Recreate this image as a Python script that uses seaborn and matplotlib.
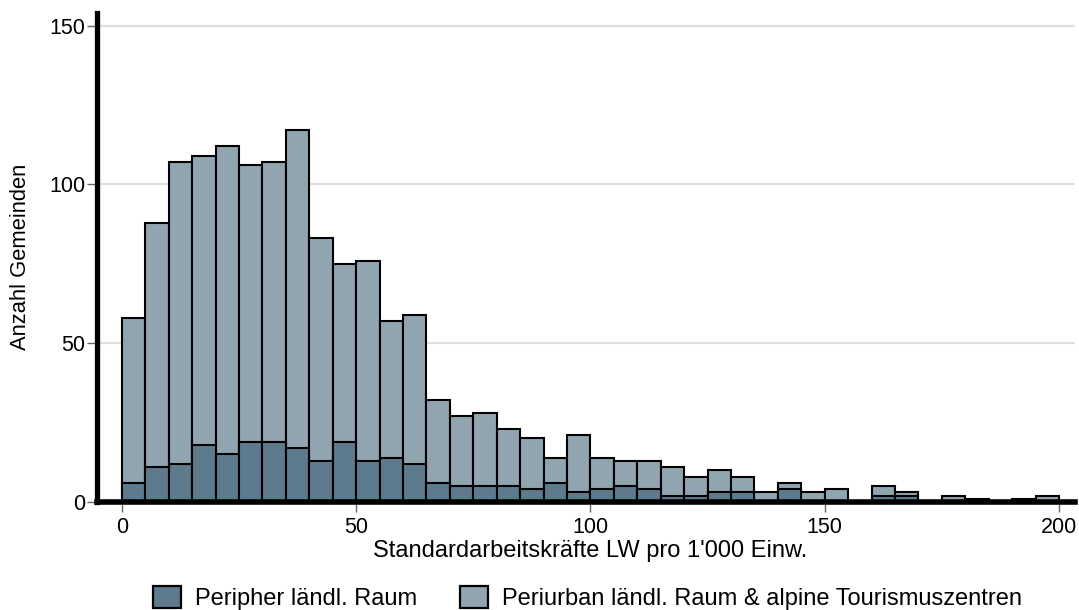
import numpy as np
import pandas as pd
import matplotlib
matplotlib.use("Agg")
import matplotlib.pyplot as plt
import seaborn as sns
from matplotlib.patches import Patch

# Bin edges (width 5) from 0 to 200
bin_left = list(range(0, 200, 5))

# Counts per bin: Periurban ländl. Raum & alpine Tourismuszentren (light)
periurban = [58, 88, 107, 109, 112, 106, 107, 117, 83, 75,
             76, 57, 59, 32, 27, 28, 23, 20, 14, 21,
             14, 13, 13, 11, 8, 10, 8, 3, 6, 3,
             4, 0, 5, 3, 0, 2, 1, 0, 1, 2]

# Counts per bin: Peripher ländl. Raum (dark)
peripher = [6, 11, 12, 18, 15, 19, 19, 17, 13, 19,
            13, 14, 12, 6, 5, 5, 5, 4, 6, 3,
            4, 5, 4, 2, 2, 3, 3, 0, 4, 0,
            0, 0, 2, 2, 0, 0, 0, 0, 0, 0]

labels = ["Peripher ländl. Raum", "Periurban ländl. Raum & alpine Tourismuszentren"]
x_label = "Standardarbeitskräfte LW pro 1'000 Einw."
y_label = "Anzahl Gemeinden"
x_ticks = [0, 50, 100, 150, 200]
y_ticks = [0, 50, 100, 150]

dark_col = "#5e7b8e"
light_col = "#91a5b1"

sns.set_theme(style="white")
plt.rcParams['font.family'] = ['Liberation Sans', 'DejaVu Sans']
plt.rcParams['text.color'] = 'black'
plt.rcParams['axes.labelcolor'] = 'black'
plt.rcParams['xtick.labelcolor'] = 'black'
plt.rcParams['ytick.labelcolor'] = 'black'

edges = bin_left + [200]
centers = [b + 2.5 for b in bin_left]

df_light = pd.DataFrame({"x": centers, "w": periurban})
df_dark = pd.DataFrame({"x": centers, "w": peripher})

fig = plt.figure(figsize=(10.79, 6.10), dpi=100)
ax = fig.add_axes([97/1079, 1 - 502/610, (1075-97)/1079, (502-13)/610])

ax.set_axisbelow(True)
for yv in y_ticks[1:]:
    ax.axhline(yv, color="#e0e0e0", lw=1.6, zorder=0)

sns.histplot(data=df_light, x="x", weights="w", bins=edges, ax=ax,
             color=light_col, alpha=1, edgecolor="black", linewidth=1.5, zorder=2)
sns.histplot(data=df_dark, x="x", weights="w", bins=edges, ax=ax,
             color=dark_col, alpha=1, edgecolor="black", linewidth=1.5, zorder=3)

ax.set_xlim(-5.3, 203.4)
ax.set_ylim(0, 154)
ax.set_xticks(x_ticks)
ax.set_yticks(y_ticks)
ax.tick_params(axis="both", which="major", length=7, width=1, color="#666666",
               labelsize=15.5, labelcolor="black", bottom=True, left=True,
               direction="out")
ax.tick_params(axis="x", pad=4)
ax.tick_params(axis="y", pad=1.5)
ax.set_xlabel(x_label, fontsize=17, va="center", color="black")
ax.set_ylabel(y_label, fontsize=15.8, va="center", color="black")
ax.xaxis.set_label_coords(0.504, -0.100)
ax.yaxis.set_label_coords(-0.0787, 0.502)

for side in ["top", "right"]:
    ax.spines[side].set_visible(False)
ax.spines["left"].set_linewidth(3.8)
ax.spines["left"].set_color("black")
ax.spines["bottom"].set_linewidth(4)
ax.spines["bottom"].set_color("black")
ax.spines["bottom"].set_zorder(5)
ax.spines["left"].set_zorder(5)

handles = [Patch(facecolor=dark_col, edgecolor="black", linewidth=1.6),
           Patch(facecolor=light_col, edgecolor="black", linewidth=1.6)]
leg = fig.legend(handles, labels, loc="center", bbox_to_anchor=(0.5445, 0.0197),
                 ncol=2, frameon=False, fontsize=17, handlelength=1.19,
                 handleheight=1.05, columnspacing=1.8, handletextpad=0.6,
                 borderpad=0, borderaxespad=0)
for t in leg.get_texts():
    t.set_color("black")

fig.savefig("out.png", dpi=100)
